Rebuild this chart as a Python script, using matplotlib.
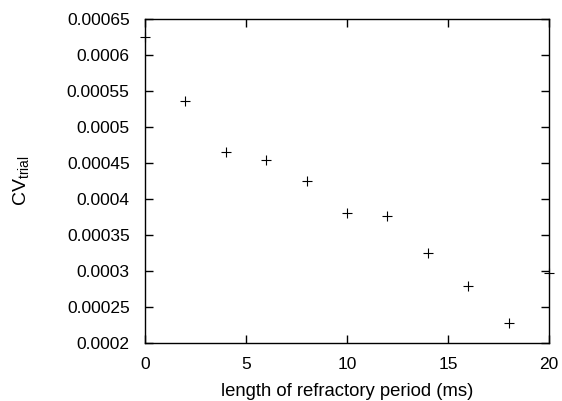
import matplotlib
matplotlib.use("Agg")
import matplotlib.pyplot as plt

plt.rcParams["font.family"] = ["Liberation Sans", "DejaVu Sans"]
plt.rcParams["mathtext.fontset"] = "custom"
plt.rcParams["mathtext.rm"] = "Liberation Sans"
plt.rcParams["mathtext.it"] = "Liberation Sans:italic"

# Refractory period length (ms) and trial coefficient of variation
refractory_ms = [0, 2, 4, 6, 8, 10, 12, 14, 16, 18, 20]
cv_trial = [0.000626, 0.0005365, 0.0004657, 0.000455, 0.0004258, 0.0003806,
            0.0003764, 0.0003254, 0.0002792, 0.0002286, 0.0002972]

x_ticks = [0, 5, 10, 15, 20]
y_ticks = [0.0002, 0.00025, 0.0003, 0.00035, 0.0004, 0.00045, 0.0005, 0.00055, 0.0006, 0.00065]
y_tick_labels = ["0.0002", "0.00025", "0.0003", "0.00035", "0.0004", "0.00045",
                 "0.0005", "0.00055", "0.0006", "0.00065"]

fig = plt.figure(figsize=(5.62, 4.01), dpi=100)
ax = fig.add_axes([0.258, 0.144, 0.719, 0.808])

ax.plot(refractory_ms, cv_trial, linestyle="none", marker="+", markersize=7,
        markeredgewidth=0.8, color="black", clip_on=False)

ax.set_xlim(0, 20)
ax.set_ylim(0.0002, 0.00065)
ax.set_xticks(x_ticks)
ax.set_xticklabels([str(t) for t in x_ticks])
ax.set_yticks(y_ticks)
ax.set_yticklabels(y_tick_labels)
ax.tick_params(direction="in", length=6, width=1, top=True, right=True,
               labelsize=12.5)
ax.tick_params(axis="x", pad=10)
ax.tick_params(axis="y", pad=11)
for s in ax.spines.values():
    s.set_linewidth(1)

ax.set_xlabel("length of refractory period (ms)", fontsize=13.3, labelpad=8)
ax.set_ylabel(r"CV$_{\mathrm{trial}}$", fontsize=14, labelpad=26)

fig.savefig("out.png", dpi=100)
